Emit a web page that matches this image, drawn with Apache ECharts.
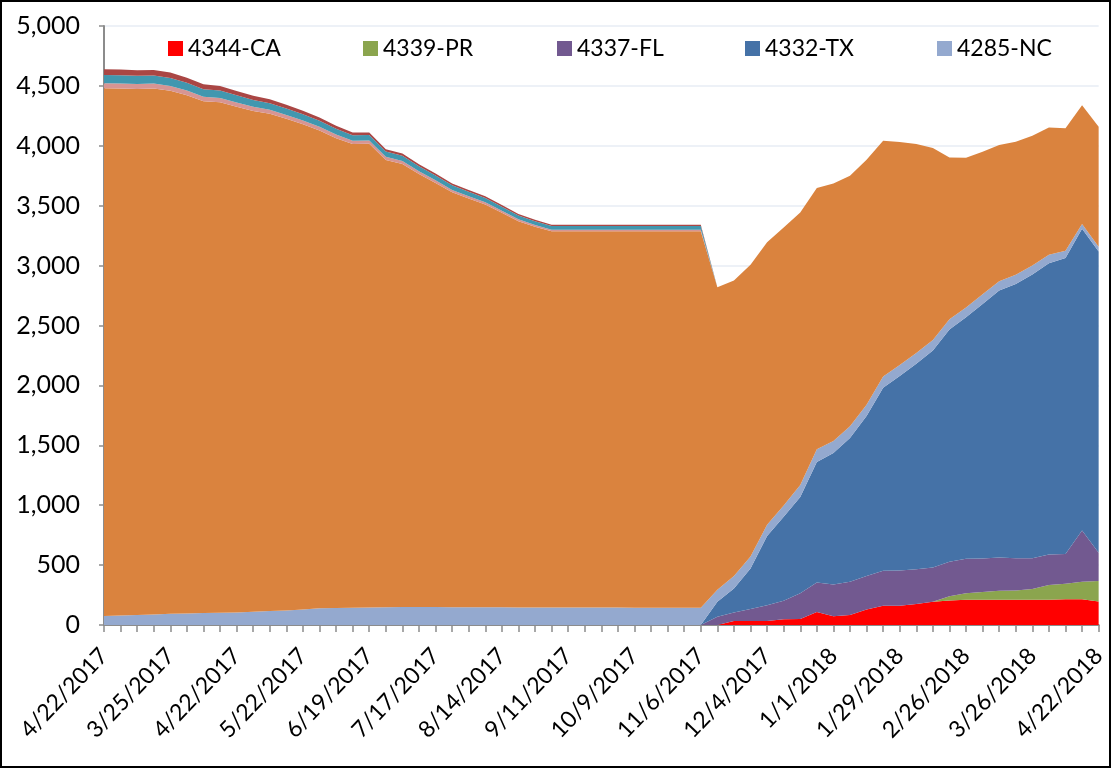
<!DOCTYPE html>
<html>
<head>
<meta charset="utf-8">
<script src="https://cdn.jsdelivr.net/npm/echarts@6/dist/echarts.min.js"></script>
<style>
  html, body { margin: 0; padding: 0; background: #fff; }
  #wrap { width: 1111px; height: 768px; box-sizing: border-box; border: 2px solid #000; }
  #chart { width: 1107px; height: 764px; }
</style>
</head>
<body>
<div id="wrap"><div id="chart"></div></div>
<script>
const categories = [
  '4/22/2017','3/4/2017','3/11/2017','3/18/2017','3/25/2017','4/1/2017','4/8/2017','4/15/2017',
  '4/22/2017','4/29/2017','5/6/2017','5/13/2017','5/22/2017','5/29/2017','6/5/2017','6/12/2017',
  '6/19/2017','6/26/2017','7/3/2017','7/10/2017','7/17/2017','7/24/2017','7/31/2017','8/7/2017',
  '8/14/2017','8/21/2017','8/28/2017','9/4/2017','9/11/2017','9/18/2017','9/25/2017','10/2/2017',
  '10/9/2017','10/16/2017','10/23/2017','10/30/2017','11/6/2017','11/13/2017','11/20/2017','11/27/2017',
  '12/4/2017','12/11/2017','12/18/2017','12/25/2017','1/1/2018','1/8/2018','1/15/2018','1/22/2018',
  '1/29/2018','2/5/2018','2/12/2018','2/19/2018','2/26/2018','3/5/2018','3/12/2018','3/19/2018',
  '3/26/2018','4/2/2018','4/9/2018','4/16/2018','4/22/2018'
];

// bottom to top of the stack
const ca = [0,0,0,0,0,0,0,0,0,0,0,0,0,0,0,0,0,0,0,0,0,0,0,0,0,0,0,0,0,0,0,0,0,0,0,0,0,
  0,33,33,33,47,50,108,72,83,130,161,161,175,194,205,211,211,211,211,211,211,214,214,197];
const pr = [0,0,0,0,0,0,0,0,0,0,0,0,0,0,0,0,0,0,0,0,0,0,0,0,0,0,0,0,0,0,0,0,0,0,0,0,0,
  0,0,0,0,0,0,0,0,0,0,0,0,0,0,36,55,64,75,78,89,122,130,147,170];
const fl = [0,0,0,0,0,0,0,0,0,0,0,0,0,0,0,0,0,0,0,0,0,0,0,0,0,0,0,0,0,0,0,0,0,0,0,0,0,
  69,72,100,131,156,214,247,267,278,278,292,294,291,286,287,287,280,278,269,258,256,248,428,236];
const tx = [0,0,0,0,0,0,0,0,0,0,0,0,0,0,0,0,0,0,0,0,0,0,0,0,0,0,0,0,0,0,0,0,0,0,0,0,0,
  125,200,339,578,700,805,1006,1097,1200,1336,1527,1623,1714,1812,1939,2016,2125,2228,2289,2367,2430,2472,2519,2514];
const nc = [75,80,84,88,94,97,100,102,105,110,116,122,130,139,142,145,147,149,150,150,150,149,149,148,148,147,147,147,147,146,146,146,145,145,145,144,144,
  100,105,100,95,95,100,105,100,98,95,95,92,90,88,85,82,80,78,76,75,72,60,40,40];
const orange = [4406,4398,4390,4390,4365,4325,4272,4261,4221,4180,4151,4103,4050,3989,3922,3869,3870,3733,3698,3615,3540,3463,3411,3363,3293,3223,3177,3139,3139,3140,3140,3140,3141,3141,3141,3142,3142,
  2525,2465,2436,2357,2321,2275,2181,2150,2091,2044,1967,1861,1744,1601,1351,1249,1190,1136,1110,1083,1062,1023,991,1001];
const pink = [42,42,42,41,40,39,38,37,36,35,34,33,32,31,30,28,27,26,25,23,22,20,19,18,17,16,15,14,14,14,14,14,14,14,14,14,14,
  0,0,0,0,0,0,0,0,0,0,0,0,0,0,0,0,0,0,0,0,0,0,0,0];
const teal = [69,69,69,68,67,65,63,61,59,57,55,53,51,50,48,47,46,44,43,41,40,38,37,35,34,33,32,31,31,31,31,31,31,31,31,31,31,
  0,0,0,0,0,0,0,0,0,0,0,0,0,0,0,0,0,0,0,0,0,0,0,0];
const darkred = [47,47,46,46,45,43,41,39,37,35,33,31,29,27,25,22,21,20,19,18,17,16,15,14,13,12,12,11,11,11,11,11,11,11,11,11,11,
  0,0,0,0,0,0,0,0,0,0,0,0,0,0,0,0,0,0,0,0,0,0,0,0];

const legendNames = ['4344-CA','4339-PR','4337-FL','4332-TX','4285-NC'];

const seriesDefs = [
  { name: '4344-CA', data: ca, color: '#FF0000' },
  { name: '4339-PR', data: pr, color: '#8BA54E' },
  { name: '4337-FL', data: fl, color: '#725990' },
  { name: '4332-TX', data: tx, color: '#4572A7' },
  { name: '4285-NC', data: nc, color: '#94A9CF' },
  { name: 'series 6', data: orange, color: '#DA833E' },
  { name: 'series 7', data: pink, color: '#D79593' },
  { name: 'series 8', data: teal, color: '#4197AF' },
  { name: 'series 9', data: darkred, color: '#AA4644' }
];

const font = 'Lato, "Open Sans", sans-serif';
const legendLefts = [161, 356, 550, 738, 930];
const chart = echarts.init(document.getElementById('chart'));
chart.setOption({
  animation: false,
  backgroundColor: '#fff',
  legend: legendNames.map((n, i) => ({
    data: [n],
    left: legendLefts[i], top: 30,
    itemWidth: 15, itemHeight: 15, itemGap: 0,
    icon: 'rect',
    textStyle: { fontFamily: font, fontSize: 23, color: '#000' }
  })),
  grid: { left: 102, top: 24, width: 1000, height: 599 },
  xAxis: {
    type: 'category',
    data: categories,
    boundaryGap: false,
    axisLine: { lineStyle: { color: '#8c8c8c', width: 2 } },
    axisTick: { show: true, interval: 0, length: 7, lineStyle: { color: '#8c8c8c', width: 1.5 } },
    axisLabel: { interval: 3, rotate: 46, fontFamily: font, fontSize: 23, color: '#000', margin: 27 },
    splitLine: { show: false }
  },
  yAxis: {
    type: 'value',
    min: 0, max: 5000, interval: 500,
    axisLine: { show: true, lineStyle: { color: '#8c8c8c', width: 2 } },
    axisTick: { show: true, length: 5, lineStyle: { color: '#8c8c8c', width: 1.5 } },
    axisLabel: { fontFamily: font, fontSize: 25, color: '#000', margin: 24,
      formatter: v => v.toLocaleString('en-US') },
    splitLine: { lineStyle: { color: '#EDF1F7', width: 2 } }
  },
  series: seriesDefs.map(s => ({
    name: s.name, type: 'line', stack: 'total', data: s.data,
    symbol: 'none', showSymbol: false,
    lineStyle: { width: 0 },
    itemStyle: { color: s.color },
    areaStyle: { color: s.color, opacity: 1 }
  }))
});
</script>
</body>
</html>
